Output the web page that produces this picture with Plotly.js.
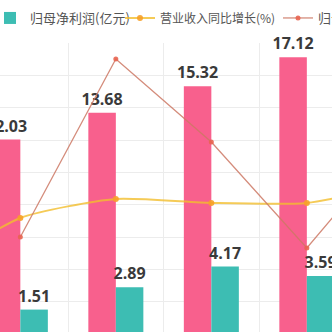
<!DOCTYPE html>
<html>
<head>
<meta charset="utf-8">
<script src="https://cdn.plot.ly/plotly-3.0.1.min.js"></script>
<style>
html,body{margin:0;padding:0;overflow:hidden;background:#fff;width:332px;height:332px;}
#chart{width:560px;height:340px;}
</style>
</head>
<body>
<div id="chart"></div>
<script>
var categories = ["2018", "2019", "2020", "2021", "2022", "2023", "2024"];
var revenue = [null, 12.03, 13.68, 15.32, 17.12, null, null];      // 营业收入(亿元)
var netProfit = [null, 1.51, 2.89, 4.17, 3.59, null, null];        // 归母净利润(亿元)
var revenueGrowth = [-30, 1.7, 12.3, 10.1, 10.1, 21, null];        // 营业收入同比增长(%)
var profitGrowth = [null, -8.9, 90.5, 44.1, -15.1, 48, null];      // 归母净利润同比增长(%)

function lbl(arr){
  return arr.map(function(v){ return v === null ? "" : v.toFixed(2); });
}

var labelFont = {family: "Open Sans, Noto Sans CJK SC", size: 16, color: "#3a3a3a", weight: "bold"};

var traces = [
  {
    type: "bar", name: "营业收入(亿元)", x: categories, y: revenue,
    marker: {color: "#f8608d"}, showlegend: false,
    text: lbl(revenue), textposition: "outside", cliponaxis: false, constraintext: "none",
    textfont: labelFont, hoverinfo: "skip"
  },
  {
    type: "bar", name: "归母净利润(亿元)", x: categories, y: netProfit,
    marker: {color: "#3dbdb3"}, legend: "legend",
    text: lbl(netProfit), textposition: "outside", cliponaxis: false, constraintext: "none",
    textfont: labelFont, hoverinfo: "skip"
  },
  {
    type: "scatter", mode: "lines+markers", name: "营业收入同比增长(%)",
    x: categories, y: revenueGrowth, yaxis: "y2", legend: "legend2",
    line: {color: "rgba(242,190,45,0.8)", width: 2, shape: "spline", smoothing: 0.6},
    marker: {color: "rgba(247,160,40,0.9)", size: 6},
    hoverinfo: "skip"
  },
  {
    type: "scatter", mode: "lines+markers", name: "归母净利润同比增长(%)",
    x: categories, y: profitGrowth, yaxis: "y2", legend: "legend3",
    line: {color: "rgba(205,120,100,0.85)", width: 1.3},
    marker: {color: "rgba(232,100,80,0.9)", size: 5},
    connectgaps: false,
    hoverinfo: "skip"
  }
];

function legendAt(px, size, indent){
  return {
    orientation: "h", xref: "container", yref: "container",
    x: px / 560, xanchor: "left", y: 1 - 18/340, yanchor: "middle",
    indentation: indent,
    font: {family: "Noto Sans CJK SC", size: size, color: "#555"},
    bgcolor: "rgba(0,0,0,0)"
  };
}

var layout = {
  width: 560, height: 340,
  margin: {l: 0, r: 0, t: 43, b: 6, pad: 0, autoexpand: false},
  paper_bgcolor: "#fff", plot_bgcolor: "#fff",
  barmode: "group", bargap: 0.424, bargroupgap: 0,
  showlegend: true,
  legend: legendAt(0, 13, -10),
  legend2: legendAt(120, 12, 0),
  legend3: legendAt(278, 13, 0),
  xaxis: {
    type: "category", range: [0.787, 0.787 + 560/95.5],
    tickson: "boundaries", showgrid: true, gridcolor: "#ececec", gridwidth: 1,
    showticklabels: false, ticks: "", zeroline: false, showline: false, fixedrange: true
  },
  yaxis: {
    range: [0, 18], dtick: 2, showgrid: true, gridcolor: "#ececec", gridwidth: 1,
    showticklabels: false, ticks: "", zeroline: false, showline: false, fixedrange: true
  },
  yaxis2: {
    overlaying: "y", side: "right", range: [-63.1, 99.4],
    showgrid: false, showticklabels: false, ticks: "", zeroline: false, showline: false, fixedrange: true
  }
};

Plotly.newPlot("chart", traces, layout, {displayModeBar: false, staticPlot: true});
</script>
</body>
</html>
